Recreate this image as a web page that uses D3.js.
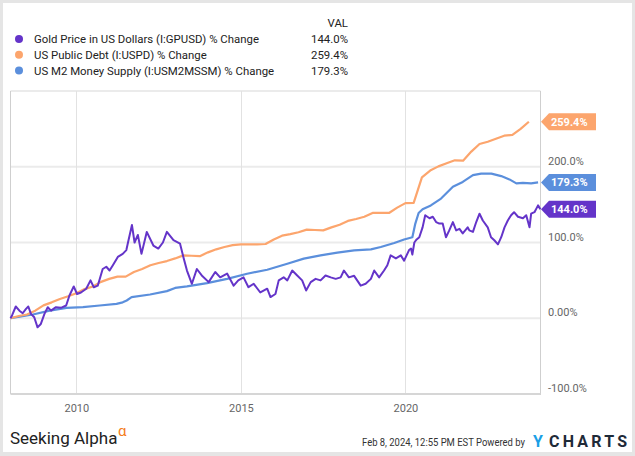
<!DOCTYPE html>
<html><head><meta charset="utf-8">
<script src="https://cdn.jsdelivr.net/npm/d3@7"></script>
<style>
body{margin:0;background:#fff}
svg{display:block}
text{font-family:Roboto,"Noto Sans",sans-serif}
</style>
</head><body>
<svg id="chart" width="635" height="456"></svg>
<script>
// ---------- data ----------
const seriesNames = [
  "Gold Price in US Dollars (I:GPUSD) % Change",
  "US Public Debt (I:USPD) % Change",
  "US M2 Money Supply (I:USM2MSSM) % Change"
];
const seriesColors = ["#6434c9", "#fca56d", "#5b8fdc"];
const lastLabels = ["144.0%", "259.4%", "179.3%"];
const lastValues = [144.0, 259.4, 179.3];
const yTicks = [-100, 0, 100, 200];
const yTickLabels = ["-100.0%", "0.00%", "100.0%", "200.0%"];
const xTicks = [2010, 2015, 2020];

// Gold (decimal year, % change)
const goldT = [
  2008.00, 2008.05, 2008.16, 2008.27, 2008.37, 2008.47, 2008.54, 2008.62, 2008.72, 2008.82, 2008.92,
  2009.03, 2009.13, 2009.23, 2009.38, 2009.53, 2009.69, 2009.79, 2009.92,
  2010.02, 2010.14, 2010.30, 2010.43, 2010.53, 2010.65, 2010.80, 2010.91,
  2011.01, 2011.11, 2011.26, 2011.41, 2011.52, 2011.57, 2011.69, 2011.77, 2011.87, 2011.98,
  2012.14, 2012.34, 2012.49, 2012.63, 2012.75, 2012.95,
  2013.15, 2013.25, 2013.36, 2013.51, 2013.66, 2013.81,
  2014.02, 2014.22, 2014.37, 2014.58, 2014.78, 2014.92,
  2015.08, 2015.23, 2015.39, 2015.59, 2015.80, 2015.90,
  2016.05, 2016.15, 2016.30, 2016.41, 2016.56, 2016.71, 2016.86, 2016.98,
  2017.12, 2017.27, 2017.42, 2017.57, 2017.73, 2017.88,
  2018.03, 2018.13, 2018.28, 2018.44, 2018.64, 2018.79, 2018.95,
  2019.05, 2019.20, 2019.35, 2019.45, 2019.55, 2019.71, 2019.86, 2019.96,
  2020.11, 2020.17, 2020.21, 2020.27, 2020.34, 2020.42, 2020.52, 2020.60, 2020.73, 2020.83, 2020.93,
  2021.03, 2021.13, 2021.23, 2021.33, 2021.44, 2021.54, 2021.64, 2021.74, 2021.89, 2021.94,
  2022.05, 2022.15, 2022.25, 2022.35, 2022.50, 2022.60, 2022.70, 2022.81, 2022.91,
  2023.01, 2023.11, 2023.21, 2023.30, 2023.42, 2023.57, 2023.67, 2023.77, 2023.82, 2023.92,
  2024.03, 2024.10
];
const goldV = [
  0, 4, 15.5, 10, 6.6, 12.4, 15.5, 5.8, 1.3, -12, -7.5,
  5.8, 14.6, 10, 14.6, 13.8, 16.8, 30, 42,
  32, 34, 39, 50, 41, 43, 65, 68,
  63, 70, 81, 85, 90, 100, 123, 100, 110, 85,
  114, 96, 92, 100, 114, 103,
  98.5, 81, 63, 45.5, 65, 56.5,
  47.7, 61, 54, 59, 43, 50,
  54, 41, 45.5, 34, 39, 28,
  32, 50, 54, 50, 63, 56.5, 50, 36.7,
  47.7, 52, 50, 56.5, 54, 52,
  54, 63, 54, 56, 43, 45.5, 52,
  63, 54, 63, 70, 83, 79, 83, 76,
  90, 92, 84, 100, 104, 107, 120, 136, 132, 134, 127,
  125, 125, 107, 116, 127, 116, 118, 112, 120, 116,
  114, 127, 138, 129, 120, 107, 103, 97.6, 107,
  120, 129, 136, 140, 134, 132, 136, 120, 138, 140,
  149, 144
];

// US Public Debt (quarterly)
const debtT = [
  2008.00, 2008.25, 2008.50, 2008.75, 2009.00, 2009.25, 2009.50, 2009.75,
  2010.00, 2010.25, 2010.50, 2010.75, 2011.00, 2011.25, 2011.50, 2011.75,
  2012.00, 2012.25, 2012.50, 2012.75, 2013.00, 2013.25, 2013.50, 2013.75,
  2014.00, 2014.25, 2014.50, 2014.75, 2015.00, 2015.25, 2015.50, 2015.75,
  2016.00, 2016.25, 2016.50, 2016.75, 2017.00, 2017.25, 2017.50, 2017.75,
  2018.00, 2018.25, 2018.50, 2018.75, 2019.00, 2019.25, 2019.50, 2019.75,
  2020.00, 2020.25, 2020.50, 2020.75, 2021.00, 2021.25, 2021.50, 2021.75,
  2022.00, 2022.25, 2022.50, 2022.75, 2023.00, 2023.25, 2023.50, 2023.75
];
const debtV = [
  0, 3, 5, 10, 17, 21, 25.5, 29,
  33, 38.5, 42, 48, 52, 55, 55, 61,
  65, 70, 73, 75.5, 79, 83, 82.5, 82,
  87, 91, 94, 96.5, 97.6, 97.6, 97.6, 98,
  104, 109, 111, 113.5, 117, 116.5, 116, 120,
  123.5, 128.5, 131, 134, 139, 139, 139, 146,
  152, 152.3, 186, 195, 200.5, 204.5, 208.5, 208,
  220, 230, 233, 237, 241, 242, 250, 259.4
];

// US M2 Money Supply
const m2T = [
  2008.00, 2008.68, 2009.19, 2009.70, 2010.20, 2010.71, 2011.22, 2011.41, 2011.53, 2011.68,
  2012.24, 2012.75, 2013.00, 2013.36, 2013.97, 2014.58, 2015.19, 2015.80, 2016.41, 2016.91,
  2017.42, 2017.93, 2018.44, 2018.95, 2019.25, 2019.66, 2019.96, 2020.21, 2020.30, 2020.40,
  2020.52, 2020.77, 2021.08, 2021.44, 2021.74, 2022.05, 2022.30, 2022.61, 2022.91, 2023.16,
  2023.37, 2023.57, 2023.82, 2024.03
];
const m2V = [
  0, 5, 10, 13.8, 14.6, 16.8, 19, 21, 23.4, 27.8,
  31.4, 35.8, 40, 42, 46.4, 52, 58.8, 64, 72, 78.7,
  83, 86.6, 89.7, 91, 94, 99.3, 104, 107, 125, 139,
  144, 149, 158, 173.5, 180, 189, 191, 191, 187.7, 183.3,
  178, 178.8, 178, 179.3
];

// ---------- helpers ----------
function toDate(t) {
  const y = Math.floor(t);
  const a = Date.UTC(y, 0, 1), b = Date.UTC(y + 1, 0, 1);
  return new Date(a + (t - y) * (b - a));
}
const series = [
  goldT.map((t, i) => ({d: toDate(t), v: goldV[i]})),
  debtT.map((t, i) => ({d: toDate(t), v: debtV[i]})),
  m2T.map((t, i) => ({d: toDate(t), v: m2V[i]}))
];

// ---------- layout ----------
const W = 635, H = 456;
const L = 10.5, R = 540.5, T = 91, B = 394;
const svg = d3.select("#chart");

// frame
svg.append("rect").attr("x", 0).attr("y", 0).attr("width", W).attr("height", H).attr("fill", "#e5e5e5");
svg.append("rect").attr("x", 3).attr("y", 3).attr("width", W - 6).attr("height", H - 7).attr("fill", "#fff");

const x = d3.scaleUtc().domain([new Date(Date.UTC(2008, 0, 1)), new Date(Date.UTC(2024, 1, 8))]).range([L, R]);
const y = d3.scaleLinear().domain([-100, 300]).range([B, T]);

// grid
const g = svg.append("g");
g.selectAll("line.hg").data([0, 100, 200, 300]).join("line")
  .attr("x1", L).attr("x2", R).attr("y1", d => y(d)).attr("y2", d => y(d))
  .attr("stroke", "#ebebeb").attr("stroke-width", 2);
g.selectAll("line.vg").data(xTicks).join("line")
  .attr("x1", d => Math.round(x(toDate(d))) + 0.5).attr("x2", d => Math.round(x(toDate(d))) + 0.5)
  .attr("y1", T).attr("y2", B).attr("stroke", "#e2e2e2").attr("stroke-width", 1);

// borders
svg.append("line").attr("x1", L).attr("x2", L).attr("y1", T).attr("y2", B).attr("stroke", "#cfcfcf");
svg.append("line").attr("x1", R).attr("x2", R).attr("y1", T).attr("y2", B + 1).attr("stroke", "#cfcfcf");
svg.append("line").attr("x1", L).attr("x2", R).attr("y1", B).attr("y2", B).attr("stroke", "#d6d6d6").attr("stroke-width", 2);

// lines
const line = d3.line().x(d => x(d.d)).y(d => y(d.v));
[2, 1, 0].forEach(i => {
  svg.append("path").datum(series[i]).attr("d", line)
    .attr("fill", "none").attr("stroke", seriesColors[i])
    .attr("stroke-width", i === 0 ? 2 : 2.2).attr("stroke-linejoin", "round");
});

// y axis labels
const yAxis = d3.axisRight(y).tickValues(yTicks).tickSize(0).tickPadding(0)
  .tickFormat(d => yTickLabels[yTicks.indexOf(d)]);
const ya = svg.append("g").attr("transform", `translate(548,0)`).call(yAxis);
ya.select(".domain").remove();
ya.selectAll("text").attr("font-size", 11).attr("fill", "#666").attr("x", 0).attr("dy", "-0.22em")
  .attr("font-family", "Roboto, sans-serif");

// x axis labels
const xAxis = d3.axisBottom(x).tickValues(xTicks.map(toDate)).tickSize(0).tickPadding(10)
  .tickFormat(d => d.getUTCFullYear());
const xa = svg.append("g").attr("transform", `translate(0,${B})`).call(xAxis);
xa.select(".domain").remove();
xa.selectAll("text").attr("font-size", 11).attr("fill", "#666").attr("font-family", "Roboto, sans-serif");

// end flags
lastValues.forEach((v, i) => {
  const cy = y(v);
  const x0 = 541, x1 = 549, x2 = 596, h = 8.5;
  svg.append("path")
    .attr("d", `M${x0},${cy}L${x1},${cy - h}L${x2},${cy - h}L${x2},${cy + h}L${x1},${cy + h}Z`)
    .attr("fill", seriesColors[i]);
  svg.append("text").attr("x", 551).attr("y", cy + 4).attr("font-size", 11).attr("font-weight", "bold")
    .attr("fill", "#fff").text(lastLabels[i]);
});

// legend
svg.append("text").attr("x", 348).attr("y", 27).attr("text-anchor", "end")
  .attr("font-size", 11.4).attr("fill", "#222").text("VAL");
seriesNames.forEach((n, i) => {
  const cy = 39 + i * 15.7;
  svg.append("circle").attr("cx", 19).attr("cy", cy).attr("r", 4).attr("fill", seriesColors[i]);
  svg.append("text").attr("x", 34).attr("y", cy + 4.2).attr("font-size", 11.4).attr("fill", "#222").text(n);
  svg.append("text").attr("x", 348).attr("y", cy + 4.2).attr("text-anchor", "end")
    .attr("font-size", 11.4).attr("fill", "#222").text(lastLabels[i]);
});

// footer
svg.append("text").attr("x", 10).attr("y", 444).attr("font-size", 17)
  .attr("fill", "#222").text("Seeking Alpha");
svg.append("text").attr("x", 118).attr("y", 436).attr("font-size", 15).attr("fill", "#f47c20").text("α");
svg.append("text").attr("transform", "translate(362,446) scale(0.86,1)").attr("font-size", 11)
  .attr("fill", "#333").text("Feb 8, 2024, 12:55 PM EST Powered by");
svg.append("text").attr("x", 533).attr("y", 447).attr("font-size", 16).attr("font-weight", "bold")
  .attr("fill", "#1a9fe6").text("Y");
svg.append("text").attr("x", 549).attr("y", 447).attr("font-size", 16).attr("font-weight", "bold")
  .attr("fill", "#1e2a38").attr("textLength", 78).attr("lengthAdjust", "spacing").text("CHARTS");
</script>
</body></html>
